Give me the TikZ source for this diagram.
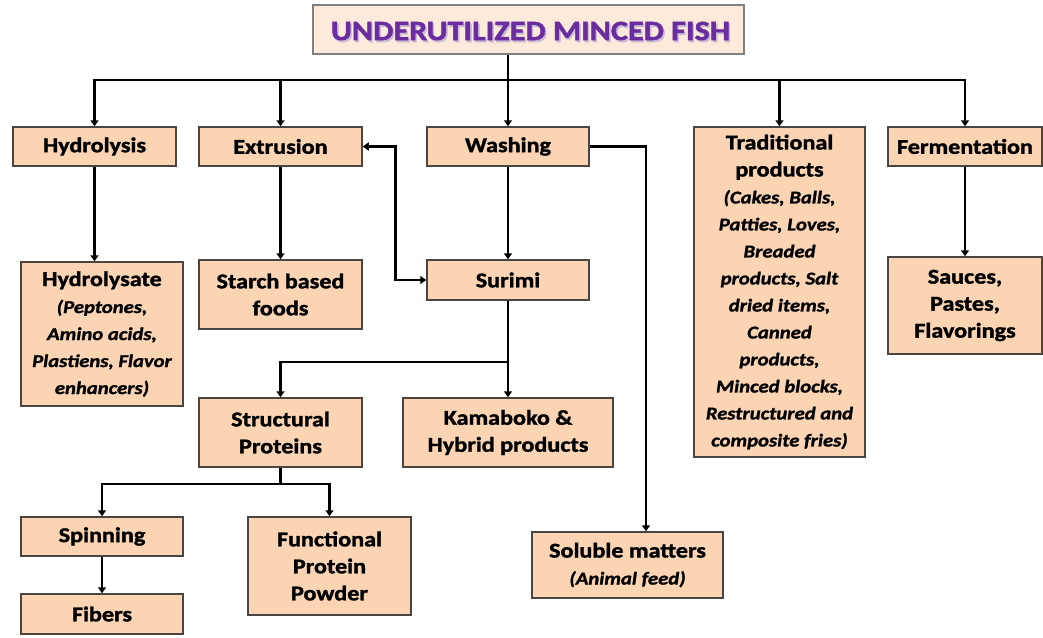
\documentclass[tikz,border=0pt]{standalone}
\usepackage{fontspec}
\setmainfont{Carlito}[FakeStretch=1.15, BoldFeatures={FakeBold=1.6}, BoldItalicFeatures={FakeBold=1.4}]
\usetikzlibrary{arrows.meta,calc}
\definecolor{peach}{HTML}{FBD4B4}
\definecolor{titlefill}{HTML}{FDEADA}
\definecolor{titletext}{HTML}{6A2C9E}
\definecolor{titleshade}{HTML}{C9BBD6}
\definecolor{boxline}{HTML}{4A4540}
% italic detail lines inside boxes
\newcommand{\detail}{\fontsize{18}{27}\selectfont\bfseries\itshape}
\begin{document}
\begin{tikzpicture}[x=1pt,y=-1pt,
  box/.style={draw=boxline, line width=1.5pt, fill=peach, align=center,
    inner sep=0pt, font=\fontsize{21}{27}\selectfont\bfseries},
  link/.style={draw=black, line width=2.6pt},
  arr/.style={link, -{Triangle[length=6pt,width=8pt]}},
  twoway/.style={link, {Triangle[length=6pt,width=8pt]}-{Triangle[length=6pt,width=8pt]}},
]
\useasboundingbox (0,0) rectangle (1043,637);

% title box
\node[draw=gray, line width=1.3pt, fill=titlefill, minimum width=431pt,
  minimum height=49pt, inner sep=0pt] (top) at (528.5,29.5) {};
\node[text=titleshade, font=\fontsize{28}{30}\selectfont\bfseries]
  (topshade) at (532,33) {UNDERUTILIZED MINCED FISH};
\node[text=titletext, font=\fontsize{28}{30}\selectfont\bfseries]
  (toptext) at (530.5,31) {UNDERUTILIZED MINCED FISH};

% first level
\node[box, minimum width=163pt, minimum height=39pt] (hyd) at (94.5,146.5) {Hydrolysis};
\node[box, minimum width=163pt, minimum height=39pt] (ext) at (280.5,146.5) {Extrusion};
\node[box, minimum width=162pt, minimum height=39pt] (wash) at (508,146.5) {Washing};
\node[box, minimum width=171pt, minimum height=330pt] (trad) at (779.5,292)
  {Traditional\\products\\{\detail(Cakes, Balls,}\\{\detail Patties, Loves,}\\{\detail Breaded}\\
   {\detail products, Salt}\\{\detail dried items,}\\{\detail Canned}\\{\detail products,}\\
   {\detail Minced blocks,}\\{\detail Restructured and}\\{\detail composite fries)}};
\node[box, minimum width=154pt, minimum height=39pt] (ferm) at (965,146.5) {Fermentation};

% second level
\node[box, minimum width=162pt, minimum height=144pt] (hylt) at (102,334)
  {Hydrolysate\\{\detail(Peptones,}\\{\detail Amino acids,}\\{\detail Plastiens, Flavor}\\{\detail enhancers)}};
\node[box, minimum width=163pt, minimum height=69pt] (starch) at (280.5,294.5) {Starch based\\foods};
\node[box, minimum width=162pt, minimum height=40pt] (sur) at (508,280) {Surimi};
\node[box, minimum width=154pt, minimum height=97pt] (sauce) at (965,305.5) {Sauces,\\Pastes,\\Flavorings};

% third level
\node[box, minimum width=163pt, minimum height=69pt] (struct) at (280.5,432.5) {Structural\\Proteins};
\node[box, minimum width=210pt, minimum height=69pt] (kama) at (508,432.5) {Kamaboko \&\\Hybrid products};
\node[box, minimum width=191pt, minimum height=66pt] (sol) at (627.5,565)
  {Soluble matters\\{\detail(Animal feed)}};

% fourth level
\node[box, minimum width=162pt, minimum height=39pt] (spin) at (102,536.5) {Spinning};
\node[box, minimum width=162pt, minimum height=40pt] (fib) at (102,614) {Fibers};
\node[box, minimum width=163pt, minimum height=98pt] (func) at (329.5,566) {Functional\\Protein\\Powder};

% junction points
\coordinate (bus) at (508,80);
\coordinate (surjoin) at (508,362);
\coordinate (structjoin) at (280.5,484);

% main distribution
\draw[arr] (wash |- top.south) -- (wash.north);
\draw[arr] (bus) -| (hyd.north);
\draw[arr] (bus) -| (ext.north);
\draw[arr] (bus) -| (trad.north);
\draw[arr] (bus) -| (ferm.north);

% branches
\draw[arr] (hyd.south) -- (hyd.south |- hylt.north);
\draw[arr] (ext.south) -- (starch.north);
\draw[arr] (wash.south) -- (sur.north);
\draw[arr] (ferm.south) -- (sauce.north);
\draw[twoway] (ext.east) -- ++(33,0) |- (sur.west);
\draw[arr] (wash.east) -| ($(sol.north)+(18.5,0)$);
\draw[link] (sur.south) -- (surjoin);
\draw[arr] (surjoin) -| (struct.north);
\draw[arr] (surjoin) -- (kama.north);
\draw[link] (struct.south) -- (structjoin);
\draw[arr] (structjoin) -| (spin.north);
\draw[arr] (structjoin) -| (func.north);
\draw[arr] (spin.south) -- (fib.north);
\end{tikzpicture}
\end{document}
